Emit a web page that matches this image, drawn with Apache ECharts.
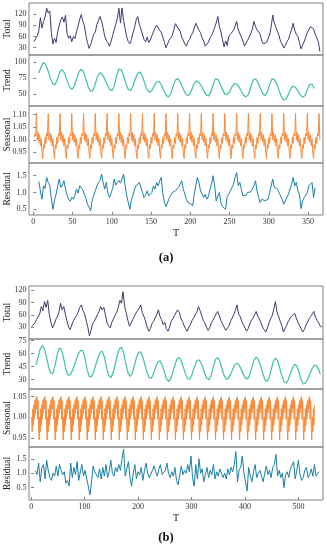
<!DOCTYPE html>
<html><head><meta charset="utf-8">
<script src="https://cdn.jsdelivr.net/npm/echarts/dist/echarts.min.js"></script>
<style>html,body{margin:0;padding:0;background:#fff}#main{width:327px;height:550px}</style>
</head><body><div id="main"></div>
<script>
// ---------- tick labels ----------
const xTicksA = [0,50,100,150,200,250,300,350];
const xTicksB = [0,100,200,300,400,500];
const aTotalTicks = [30,60,90,120];
const aTrendTicks = [50,75,100];
const aSeasonalTicks = [0.95,1.00,1.05,1.10];
const aResidualTicks = [0.5,1.0,1.5];
const bTotalTicks = [30,60,90,120];
const bTrendTicks = [30,45,60,75];
const bSeasonalTicks = [0.95,1.00,1.05];
const bResidualTicks = [0.5,1.0,1.5];
const rowNames = ['Total','Trend','Seasonal','Residual'];
const axisTitle = 'T';
const panelLabels = ['(a)','(b)'];

// ---------- panel (a) ----------
// Total, T = 1,3,5,...,365
const aTotal = [
46,50,62,75,110,82,100,112,135,122,
128,70,40,55,44,72,90,104,112,98,
116,68,55,62,46,60,54,72,88,104,
118,102,88,62,44,28,38,52,66,72,
92,96,113,100,82,60,50,44,34,46,
62,78,92,108,135,96,136,102,80,58,
46,40,52,70,84,104,113,92,80,66,
52,46,58,44,50,62,66,82,90,95,
76,70,58,44,30,40,50,56,62,78,
94,95,80,74,58,50,40,34,46,52,
62,70,82,95,100,76,70,56,48,34,
29,44,56,62,72,84,96,113,86,72,
52,32,48,36,60,66,62,76,88,100,
78,74,58,48,34,42,50,58,68,80,
100,86,78,72,66,48,40,35,44,46,
64,86,117,96,84,74,62,46,40,29,
36,46,52,66,78,95,76,66,60,44,
27,36,46,58,70,78,86,90,80,66,
56,46,20];
// Trend, T = 7,10,...,358
const aTrend = [
83,93,99.5,95.7,85.9,74.4,66.2,65.1,74.5,85.9,
88.2,82.0,71.3,61.6,57.7,62.2,73.4,84.5,89,84.6,
73.6,61.5,54.5,56.4,66.7,78.5,83.5,80.9,73.9,65.3,
58.3,55.7,62.7,78.2,89.2,88.1,78.9,66.8,57.6,56.2,
63.0,74.2,83.1,84.5,78.1,67.1,57.0,53,56.1,63.0,
69.2,70.2,65.3,56.8,49.1,46,51.0,62.4,72.4,74.4,
69.6,61.4,53.1,48.3,49.8,57.9,67.1,71,68.8,62.9,
55.5,49.6,47.4,53.0,65.3,74.0,73.3,66.4,57.4,50.4,
49.4,54.2,61.8,66.6,66.0,61.5,54.8,48.8,46,49.9,
61.4,72.3,74.3,69.0,59.8,51.3,48,53.5,65.5,74.0,
73.2,66.3,56.2,46.6,41.3,42.8,50.5,59.3,63,60.8,
55.3,49.3,45.8,47.9,57.5,65.4,65.5,59];
// Seasonal, T = 1..365
const aSeasonal = [
1.010,1.025,1.015,
1.105,1.000,1.030,0.990,1.020,0.975,1.005,0.950,0.925,0.980,0.965,1.010,0.985,1.025,1.015,
1.105,1.000,1.030,0.990,1.020,0.975,1.005,0.950,0.925,0.980,0.965,1.010,0.985,1.025,1.015,
1.105,1.000,1.030,0.990,1.020,0.975,1.005,0.950,0.925,0.980,0.965,1.010,0.985,1.025,1.015,
1.105,1.000,1.030,0.990,1.020,0.975,1.005,0.950,0.925,0.980,0.965,1.010,0.985,1.025,1.015,
1.105,1.000,1.030,0.990,1.020,0.975,1.005,0.950,0.925,0.980,0.965,1.010,0.985,1.025,1.015,
1.105,1.000,1.030,0.990,1.020,0.975,1.005,0.950,0.925,0.980,0.965,1.010,0.985,1.025,1.015,
1.105,1.000,1.030,0.990,1.020,0.975,1.005,0.950,0.925,0.980,0.965,1.010,0.985,1.025,1.015,
1.105,1.000,1.030,0.990,1.020,0.975,1.005,0.950,0.925,0.980,0.965,1.010,0.985,1.025,1.015,
1.105,1.000,1.030,0.990,1.020,0.975,1.005,0.950,0.925,0.980,0.965,1.010,0.985,1.025,1.015,
1.105,1.000,1.030,0.990,1.020,0.975,1.005,0.950,0.925,0.980,0.965,1.010,0.985,1.025,1.015,
1.105,1.000,1.030,0.990,1.020,0.975,1.005,0.950,0.925,0.980,0.965,1.010,0.985,1.025,1.015,
1.105,1.000,1.030,0.990,1.020,0.975,1.005,0.950,0.925,0.980,0.965,1.010,0.985,1.025,1.015,
1.105,1.000,1.030,0.990,1.020,0.975,1.005,0.950,0.925,0.980,0.965,1.010,0.985,1.025,1.015,
1.105,1.000,1.030,0.990,1.020,0.975,1.005,0.950,0.925,0.980,0.965,1.010,0.985,1.025,1.015,
1.105,1.000,1.030,0.990,1.020,0.975,1.005,0.950,0.925,0.980,0.965,1.010,0.985,1.025,1.015,
1.105,1.000,1.030,0.990,1.020,0.975,1.005,0.950,0.925,0.980,0.965,1.010,0.985,1.025,1.015,
1.105,1.000,1.030,0.990,1.020,0.975,1.005,0.950,0.925,0.980,0.965,1.010,0.985,1.025,1.015,
1.105,1.000,1.030,0.990,1.020,0.975,1.005,0.950,0.925,0.980,0.965,1.010,0.985,1.025,1.015,
1.105,1.000,1.030,0.990,1.020,0.975,1.005,0.950,0.925,0.980,0.965,1.010,0.985,1.025,1.015,
1.105,1.000,1.030,0.990,1.020,0.975,1.005,0.950,0.925,0.980,0.965,1.010,0.985,1.025,1.015,
1.105,1.000,1.030,0.990,1.020,0.975,1.005,0.950,0.925,0.980,0.965,1.010,0.985,1.025,1.015,
1.105,1.000,1.030,0.990,1.020,0.975,1.005,0.950,0.925,0.980,0.965,1.010,0.985,1.025,1.015,
1.105,1.000,1.030,0.990,1.020,0.975,1.005,0.950,0.925,0.980,0.965,1.010,0.985,1.025,1.015,
1.105,1.000,1.030,0.990,1.020,0.975,1.005,0.950,0.925,0.980,0.965,1.010,0.985,1.025,1.015,
1.105,1.000];
// Residual, T = 7,9,...,359
const aResidual = [
1.33,1.05,0.80,1.20,1.12,1.45,1.30,1.20,0.82,0.50,
0.78,0.95,1.18,1.40,1.15,1.22,1.35,1.10,0.92,0.80,
0.74,0.86,0.80,0.92,1.10,0.98,1.20,1.15,1.08,0.95,
0.82,0.65,0.56,0.45,0.78,0.92,1.05,1.20,1.30,1.36,
1.55,1.30,1.10,1.30,0.98,0.85,0.98,1.12,1.40,1.22,
1.30,1.36,1.28,1.40,1.55,1.20,0.90,0.70,0.50,0.80,
0.92,1.10,1.20,1.15,1.30,1.25,1.00,0.85,0.92,1.05,
0.90,0.88,1.00,1.20,1.10,1.30,1.20,1.35,1.45,0.95,
0.72,0.58,0.55,0.82,0.92,1.00,0.95,1.05,1.10,1.15,
1.10,1.35,1.10,0.95,0.80,0.70,0.75,0.66,0.60,0.95,
1.20,1.45,1.30,1.05,0.95,0.85,0.95,0.80,0.88,1.10,
1.25,1.50,1.20,0.75,0.90,1.00,0.70,0.58,0.55,0.50,
0.88,0.95,1.05,1.15,1.25,1.45,1.60,1.20,1.30,1.10,
0.90,0.85,0.92,1.00,0.95,1.02,1.10,1.20,1.35,1.05,
0.85,0.70,0.80,0.85,0.75,0.70,0.80,1.00,1.20,1.40,
1.15,1.20,1.10,1.00,0.90,0.80,0.65,0.60,0.85,0.95,
1.10,1.25,1.45,1.20,1.30,1.05,0.95,0.52,0.75,0.85,
0.92,1.00,1.20,1.25,1.30,0.85,1.15];

// ---------- panel (b) ----------
// Total, T = 1,4,...,544
const bTotal = [
31,34,40,48,45,62,80,70,92,78,
95,60,42,28,36,48,55,66,88,72,
80,62,45,30,24,35,45,52,58,66,
78,84,70,62,45,30,9,22,38,44,
52,60,68,80,72,78,60,40,33,28,
42,50,58,66,78,95,88,116,80,64,
46,32,36,48,56,64,70,76,84,65,
56,45,30,20,26,38,44,52,60,72,
56,48,36,42,26,20,30,44,50,58,
62,72,66,52,44,34,26,20,30,36,
46,52,60,66,80,70,58,46,40,30,
22,28,40,46,54,62,68,58,46,38,
30,22,18,32,44,52,60,70,84,62,
56,44,36,28,20,26,38,46,52,60,
68,56,50,40,30,24,18,28,40,50,
58,74,92,66,56,44,34,18,26,34,
44,50,56,60,64,52,42,34,26,18,
24,34,42,50,56,62,68,54,46,40,
32,30];
// Trend, T = 9,13,...,541
const bTrend = [
47,56,65.5,69.5,65.3,55.3,43.7,36.8,37.7,47.2,
59.3,66.7,64.2,53.9,41.7,34.9,35.6,40.1,46.7,54.2,
60.5,64.0,63.2,54.0,41.2,33.1,33.4,38.6,47.2,55.3,
61.5,62.7,56.2,44.4,34.6,32.2,37.2,47.0,57.8,65.6,
67.3,61.0,49.0,38.1,33.5,36.8,45.6,55.3,61.7,61.8,
56.1,46.8,37.5,31.8,31.7,36.8,44.4,50.4,51.8,47.3,
38.8,31.0,27.7,30.6,38.2,47.2,53.8,55.5,51.5,43.8,
35.9,30.6,30.7,35.8,43.5,50.4,53,50.5,44.2,36.6,
31.1,29.9,35.3,45.2,53.4,55.4,51.0,42.8,34.6,30.3,
31.1,35.7,41.9,47.0,49,47.0,42.0,36.0,31.6,30.7,
35.4,44.4,52.5,56,53.3,46.2,37.5,30.4,27.7,31.6,
41.3,50.9,54.8,51.8,43.9,34.4,27.6,25.9,29.7,36.8,
43.8,47.6,45.8,38.4,29.7,24.8,25.6,29.8,35.8,41.8,
45.9,46.8,43,36];
// Seasonal, T = 1..545
const bSeasonal = [
1.000,0.965,1.020,0.980,1.030,0.995,1.040,1.010,1.045,1.020,
1.050,0.995,1.040,0.975,0.945,1.000,0.965,1.020,0.980,1.030,0.995,1.040,1.010,1.045,1.020,
1.050,0.995,1.040,0.975,0.945,1.000,0.965,1.020,0.980,1.030,0.995,1.040,1.010,1.045,1.020,
1.050,0.995,1.040,0.975,0.945,1.000,0.965,1.020,0.980,1.030,0.995,1.040,1.010,1.045,1.020,
1.050,0.995,1.040,0.975,0.945,1.000,0.965,1.020,0.980,1.030,0.995,1.040,1.010,1.045,1.020,
1.050,0.995,1.040,0.975,0.945,1.000,0.965,1.020,0.980,1.030,0.995,1.040,1.010,1.045,1.020,
1.050,0.995,1.040,0.975,0.945,1.000,0.965,1.020,0.980,1.030,0.995,1.040,1.010,1.045,1.020,
1.050,0.995,1.040,0.975,0.945,1.000,0.965,1.020,0.980,1.030,0.995,1.040,1.010,1.045,1.020,
1.050,0.995,1.040,0.975,0.945,1.000,0.965,1.020,0.980,1.030,0.995,1.040,1.010,1.045,1.020,
1.050,0.995,1.040,0.975,0.945,1.000,0.965,1.020,0.980,1.030,0.995,1.040,1.010,1.045,1.020,
1.050,0.995,1.040,0.975,0.945,1.000,0.965,1.020,0.980,1.030,0.995,1.040,1.010,1.045,1.020,
1.050,0.995,1.040,0.975,0.945,1.000,0.965,1.020,0.980,1.030,0.995,1.040,1.010,1.045,1.020,
1.050,0.995,1.040,0.975,0.945,1.000,0.965,1.020,0.980,1.030,0.995,1.040,1.010,1.045,1.020,
1.050,0.995,1.040,0.975,0.945,1.000,0.965,1.020,0.980,1.030,0.995,1.040,1.010,1.045,1.020,
1.050,0.995,1.040,0.975,0.945,1.000,0.965,1.020,0.980,1.030,0.995,1.040,1.010,1.045,1.020,
1.050,0.995,1.040,0.975,0.945,1.000,0.965,1.020,0.980,1.030,0.995,1.040,1.010,1.045,1.020,
1.050,0.995,1.040,0.975,0.945,1.000,0.965,1.020,0.980,1.030,0.995,1.040,1.010,1.045,1.020,
1.050,0.995,1.040,0.975,0.945,1.000,0.965,1.020,0.980,1.030,0.995,1.040,1.010,1.045,1.020,
1.050,0.995,1.040,0.975,0.945,1.000,0.965,1.020,0.980,1.030,0.995,1.040,1.010,1.045,1.020,
1.050,0.995,1.040,0.975,0.945,1.000,0.965,1.020,0.980,1.030,0.995,1.040,1.010,1.045,1.020,
1.050,0.995,1.040,0.975,0.945,1.000,0.965,1.020,0.980,1.030,0.995,1.040,1.010,1.045,1.020,
1.050,0.995,1.040,0.975,0.945,1.000,0.965,1.020,0.980,1.030,0.995,1.040,1.010,1.045,1.020,
1.050,0.995,1.040,0.975,0.945,1.000,0.965,1.020,0.980,1.030,0.995,1.040,1.010,1.045,1.020,
1.050,0.995,1.040,0.975,0.945,1.000,0.965,1.020,0.980,1.030,0.995,1.040,1.010,1.045,1.020,
1.050,0.995,1.040,0.975,0.945,1.000,0.965,1.020,0.980,1.030,0.995,1.040,1.010,1.045,1.020,
1.050,0.995,1.040,0.975,0.945,1.000,0.965,1.020,0.980,1.030,0.995,1.040,1.010,1.045,1.020,
1.050,0.995,1.040,0.975,0.945,1.000,0.965,1.020,0.980,1.030,0.995,1.040,1.010,1.045,1.020,
1.050,0.995,1.040,0.975,0.945,1.000,0.965,1.020,0.980,1.030,0.995,1.040,1.010,1.045,1.020,
1.050,0.995,1.040,0.975,0.945,1.000,0.965,1.020,0.980,1.030,0.995,1.040,1.010,1.045,1.020,
1.050,0.995,1.040,0.975,0.945,1.000,0.965,1.020,0.980,1.030,0.995,1.040,1.010,1.045,1.020,
1.050,0.995,1.040,0.975,0.945,1.000,0.965,1.020,0.980,1.030,0.995,1.040,1.010,1.045,1.020,
1.050,0.995,1.040,0.975,0.945,1.000,0.965,1.020,0.980,1.030,0.995,1.040,1.010,1.045,1.020,
1.050,0.995,1.040,0.975,0.945,1.000,0.965,1.020,0.980,1.030,0.995,1.040,1.010,1.045,1.020,
1.050,0.995,1.040,0.975,0.945,1.000,0.965,1.020,0.980,1.030,0.995,1.040,1.010,1.045,1.020,
1.050,0.995,1.040,0.975,0.945,1.000,0.965,1.020,0.980,1.030,0.995,1.040,1.010,1.045,1.020,
1.050,0.995,1.040,0.975,0.945,1.000,0.965,1.020,0.980,1.030];
// Residual, T = 8,11,...,539
const bResidual = [
1.08,0.95,1.35,0.70,1.20,1.30,0.80,1.45,1.10,0.85,
0.75,1.00,0.90,1.25,0.90,1.30,1.10,0.95,1.05,0.65,
0.75,0.55,1.35,0.85,1.20,0.95,1.40,0.75,1.05,1.30,
0.90,1.10,0.80,0.55,0.25,0.70,1.25,1.05,1.00,0.85,
1.15,0.80,1.20,0.90,1.30,0.85,1.05,1.45,1.00,0.90,
1.20,1.05,1.30,1.10,1.50,1.83,0.90,1.15,1.40,0.85,
0.55,1.00,1.30,0.80,1.05,0.95,1.20,0.75,1.10,1.35,
1.00,0.85,0.80,1.10,1.25,1.05,0.90,1.15,1.30,0.95,
0.90,1.10,1.35,1.00,0.85,1.05,0.90,1.20,0.75,0.60,
0.95,1.25,0.95,1.10,1.00,1.30,1.05,1.60,0.85,0.55,
1.30,0.80,1.50,1.00,1.15,0.70,0.95,1.20,0.85,1.10,
0.95,1.30,0.80,1.05,0.90,1.15,1.20,0.85,1.00,0.80,
1.15,0.95,1.20,1.05,1.30,1.75,0.70,1.10,1.20,1.60,
1.00,0.70,0.38,1.20,0.90,0.70,1.05,1.30,0.85,1.00,
1.10,0.90,0.70,1.00,1.25,0.95,1.10,0.85,1.20,1.30,
1.65,0.90,1.10,0.85,1.00,0.50,0.95,1.05,0.85,1.15,
1.20,1.40,0.80,1.10,1.45,0.95,0.75,0.85,1.10,1.20,
0.85,0.95,1.15,0.90,1.30,0.90,1.00,1.05];

// ---------- build ----------
const serif = '"Liberation Serif","DejaVu Serif",serif';
const colors = ['#3c3b6c','#3fbfa8','#f98a3a','#1b80a6'];
const L = 29, W = 294;
const panels = [
  {top:3,h:52,data:aTotal,s:1,st:2,ymin:10.5,ymax:149,ticks:aTotalTicks,dec:0,row:0,xmin:-5.5,xmax:369,xt:xTicksA,bottom:false},
  {top:55,h:51,data:aTrend,s:7,st:3,ymin:32,ymax:111,ticks:aTrendTicks,dec:0,row:1,xmin:-5.5,xmax:369,xt:xTicksA,bottom:false},
  {top:106,h:57,data:aSeasonal,s:1,st:1,ymin:0.907,ymax:1.135,ticks:aSeasonalTicks,dec:2,row:2,xmin:-5.5,xmax:369,xt:xTicksA,bottom:false},
  {top:163,h:52,data:aResidual,s:7,st:2,ymin:0.33,ymax:1.88,ticks:aResidualTicks,dec:1,row:3,xmin:-5.5,xmax:369,xt:xTicksA,bottom:true},
  {top:286,h:53,data:bTotal,s:1,st:3,ymin:1,ymax:130,ticks:bTotalTicks,dec:0,row:0,xmin:-4,xmax:546,xt:xTicksB,bottom:false},
  {top:339,h:50,data:bTrend,s:9,st:4,ymin:19,ymax:77,ticks:bTrendTicks,dec:0,row:1,xmin:-4,xmax:546,xt:xTicksB,bottom:false},
  {top:389,h:58,data:bSeasonal,s:1,st:1,ymin:0.928,ymax:1.068,ticks:bSeasonalTicks,dec:2,row:2,xmin:-4,xmax:546,xt:xTicksB,bottom:false},
  {top:447,h:53,data:bResidual,s:8,st:3,ymin:0.07,ymax:1.91,ticks:bResidualTicks,dec:1,row:3,xmin:-4,xmax:546,xt:xTicksB,bottom:true}
];

const grid = [], xAxis = [], yAxis = [], series = [];
panels.forEach((p, i) => {
  grid.push({left:L, width:W, top:p.top, height:p.h, show:true, borderColor:'#808080', borderWidth:1,
    backgroundColor:'transparent', containLabel:false, outerBoundsMode:'none'});
  xAxis.push({
    type:'value', gridIndex:i, min:p.xmin, max:p.xmax,
    axisLine:{show:false}, splitLine:{show:false},
    axisTick:{show:p.bottom, inside:true, length:3, customValues:p.xt, lineStyle:{color:'#808080'}},
    axisLabel:{show:p.bottom, customValues:p.xt, margin:3, fontFamily:serif, fontSize:8, color:'#333'},
    name: p.bottom ? axisTitle : '', nameLocation:'middle', nameGap:13, nameMoveOverlap:false,
    nameTextStyle:{fontFamily:serif, fontSize:10, color:'#222'}
  });
  yAxis.push({
    type:'value', gridIndex:i, min:p.ymin, max:p.ymax,
    axisLine:{show:false}, splitLine:{show:false},
    axisTick:{show:true, inside:true, length:3, customValues:p.ticks, lineStyle:{color:'#808080'}},
    axisLabel:{customValues:p.ticks, margin:2.5, fontFamily:serif, fontSize:8, color:'#333',
      formatter:(v)=>Number(v).toFixed(p.dec)},
    name:rowNames[p.row], nameLocation:'middle', nameGap:17, nameRotate:90, nameMoveOverlap:false,
    nameTextStyle:{fontFamily:serif, fontSize:9.5, color:'#222'}
  });
  series.push({
    type:'line', xAxisIndex:i, yAxisIndex:i, showSymbol:false, symbol:'none',
    animation:false, silent:true, clip:true,
    lineStyle:{color:colors[p.row], width: p.row===1 ? 1.2 : 1},
    data:p.data.map((y,k)=>[p.s + k*p.st, y])
  });
});

const chart = echarts.init(document.getElementById('main'), null, {renderer:'canvas'});
chart.setOption({
  animation:false,
  backgroundColor:'#fff',
  grid, xAxis, yAxis, series,
  graphic:[
    {type:'text', x:166, y:258, style:{text:panelLabels[0], textAlign:'center', textVerticalAlign:'middle', font:'bold 12.5px "Liberation Serif"', fill:'#111'}},
    {type:'text', x:166, y:538, style:{text:panelLabels[1], textAlign:'center', textVerticalAlign:'middle', font:'bold 12.5px "Liberation Serif"', fill:'#111'}}
  ]
});
</script>
</body></html>
